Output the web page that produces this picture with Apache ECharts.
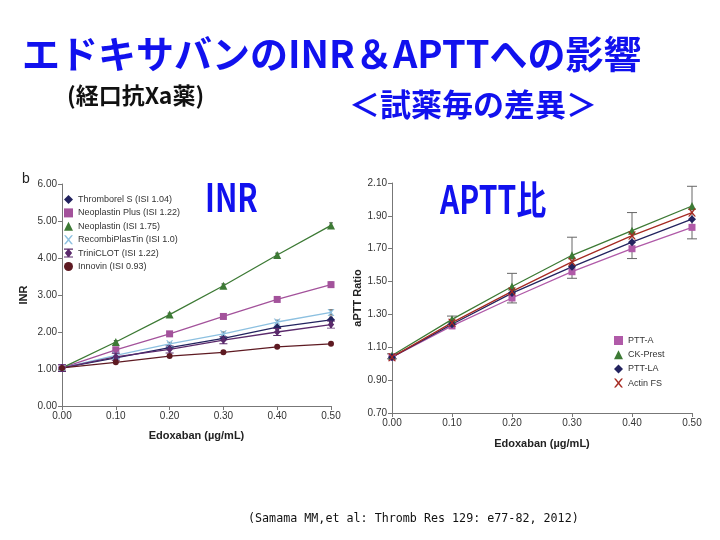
<!DOCTYPE html>
<html><head><meta charset="utf-8">
<script src="https://cdn.jsdelivr.net/npm/echarts@6/dist/echarts.min.js"></script>
<style>html,body{margin:0;padding:0;background:#fff}#c{width:720px;height:540px}</style>
</head><body><div id="c"></div>
<script>
// ---- data ----
const doses = [0.00, 0.10, 0.20, 0.30, 0.40, 0.50];
const inrTicks = [0, 1, 2, 3, 4, 5, 6];
const thromborelS = [1.03, 1.30, 1.58, 1.83, 2.13, 2.33];
const neoplastinPlus = [1.03, 1.52, 1.95, 2.42, 2.88, 3.28];
const neoplastin = [1.03, 1.73, 2.47, 3.25, 4.08, 4.88];
const recombiPlasTin = [1.03, 1.37, 1.68, 1.95, 2.27, 2.53];
const triniClot = [1.03, 1.33, 1.53, 1.78, 2.00, 2.20];
const innovin = [1.03, 1.18, 1.35, 1.45, 1.60, 1.68];
const inrErr = [0.04, 0.04, 0.04, 0.05, 0.05, 0.07];

const pttA = [1.04, 1.23, 1.40, 1.56, 1.70, 1.83];
const ckPrest = [1.05, 1.27, 1.47, 1.66, 1.81, 1.96];
const pttLA = [1.04, 1.24, 1.43, 1.59, 1.74, 1.88];
const actinFS = [1.04, 1.25, 1.44, 1.62, 1.78, 1.92];
const apttErrLow = [1.03, 1.24, 1.37, 1.52, 1.64, 1.76];
const apttErrHigh = [1.06, 1.29, 1.55, 1.77, 1.92, 2.08];

// ---- chart ----
const chart = echarts.init(document.getElementById('c'));
const X = 'path://M0,0L2,0L5,3.6L8,0L10,0L6,5L10,10L8,10L5,6.4L2,10L0,10L4,5Z';
const AST = 'path://M0,0L10,0L10,1.2L6.2,1.2L6.2,1.6L9,5L6.2,8.4L6.2,8.8L10,8.8L10,10L0,10L0,8.8L3.8,8.8L3.8,8.4L1,5L3.8,1.6L3.8,1.2L0,1.2Z';
const pairs = arr => doses.map((d, i) => [d, arr[i]]);

function axisCommon(){
  return {
    axisLine:{show:true,lineStyle:{color:'#777',width:1}},
    axisTick:{show:true,length:4,lineStyle:{color:'#777'}},
    axisLabel:{color:'#333',fontSize:10,fontFamily:'Liberation Sans, Arial',margin:5},
    splitLine:{show:false}
  };
}
function line(name, arr, color, symbol, size, xi){
  return {name, type:'line', xAxisIndex:xi, yAxisIndex:xi, data:pairs(arr),
    symbol, symbolSize:size, showSymbol:true,
    lineStyle:{color, width:1.3}, itemStyle:{color}, z:3, animation:false};
}
function errSeries(xi, lows, highs, color, capW){
  const data = doses.map((d,i)=>[d, lows[i], highs[i]]);
  return {type:'custom', xAxisIndex:xi, yAxisIndex:xi, data, z:2, animation:false,
    encode:{x:0,y:[1,2]},
    renderItem:(params, api)=>{
      const x = api.value(0);
      const lo = api.coord([x, api.value(1)]);
      const hi = api.coord([x, api.value(2)]);
      const st = {stroke:color, lineWidth:1};
      return {type:'group', children:[
        {type:'line', shape:{x1:lo[0],y1:lo[1],x2:hi[0],y2:hi[1]}, style:st},
        {type:'line', shape:{x1:lo[0]-capW,y1:lo[1],x2:lo[0]+capW,y2:lo[1]}, style:st},
        {type:'line', shape:{x1:hi[0]-capW,y1:hi[1],x2:hi[0]+capW,y2:hi[1]}, style:st}
      ]};
    }};
}
const inrLow = (arr)=>arr.map((v,i)=>v-inrErr[i]);
const inrHigh = (arr)=>arr.map((v,i)=>v+inrErr[i]);
const nameStyle = {fontSize:11,fontWeight:'bold',color:'#222',fontFamily:'Liberation Sans, Arial'};
const fmt = v=>v.toFixed(2);

const option = {
  backgroundColor:'#fff',
  animation:false,
  grid:[
    {left:62, top:184, width:269, height:222},
    {left:392, top:183, width:300, height:230}
  ],
  xAxis:[
    Object.assign(axisCommon(),{gridIndex:0,type:'value',min:0,max:0.5,interval:0.1,
      axisLabel:Object.assign(axisCommon().axisLabel,{formatter:fmt}),
      name:'Edoxaban (µg/mL)',nameLocation:'middle',nameGap:24,nameTextStyle:nameStyle}),
    Object.assign(axisCommon(),{gridIndex:1,type:'value',min:0,max:0.5,interval:0.1,
      axisLabel:Object.assign(axisCommon().axisLabel,{formatter:fmt}),
      name:'Edoxaban (µg/mL)',nameLocation:'middle',nameGap:25,nameTextStyle:nameStyle})
  ],
  yAxis:[
    Object.assign(axisCommon(),{gridIndex:0,type:'value',min:inrTicks[0],max:inrTicks[inrTicks.length-1],interval:1,
      axisLabel:Object.assign(axisCommon().axisLabel,{formatter:fmt}),
      name:'INR',nameLocation:'middle',nameGap:33,nameRotate:90,nameTextStyle:nameStyle}),
    Object.assign(axisCommon(),{gridIndex:1,type:'value',min:0.7,max:2.1,interval:0.2,
      axisLabel:Object.assign(axisCommon().axisLabel,{formatter:fmt}),
      name:'aPTT Ratio',nameLocation:'middle',nameGap:29,nameRotate:90,nameTextStyle:nameStyle})
  ],
  legend:[
    {left:59, top:190, orient:'vertical', itemGap:4.4, itemWidth:9, itemHeight:9,
     textStyle:{fontSize:9,color:'#333',fontFamily:'Liberation Sans, Arial'},
     data:[
      {name:'Thromborel S (ISI 1.04)',icon:'diamond'},
      {name:'Neoplastin Plus (ISI 1.22)',icon:'rect'},
      {name:'Neoplastin (ISI 1.75)',icon:'triangle'},
      {name:'RecombiPlasTin (ISI 1.0)',icon:X},
      {name:'TriniCLOT (ISI 1.22)',icon:AST},
      {name:'Innovin (ISI 0.93)',icon:'circle'}]},
    {left:609, top:331, orient:'vertical', itemGap:5.2, itemWidth:9, itemHeight:9,
     textStyle:{fontSize:9,color:'#333',fontFamily:'Liberation Sans, Arial'},
     data:[
      {name:'PTT-A',icon:'rect'},
      {name:'CK-Prest',icon:'triangle'},
      {name:'PTT-LA',icon:'diamond'},
      {name:'Actin FS',icon:X}]}
  ],
  title:[
    {text:'b',left:17,top:167,textStyle:{fontSize:14,fontWeight:'normal',color:'#222',fontFamily:'Liberation Sans, Arial'}},
    {text:'(Samama MM,et al: Thromb Res 129: e77-82, 2012)',left:243,top:508,
     textStyle:{fontSize:11.7,fontWeight:'normal',color:'#111',fontFamily:'DejaVu Sans Mono'}}
  ],
  graphic:[
    {type:'text',left:22,top:35,style:{text:'エドキサバンのINR＆APTTへの影響',fill:'#1111ee',
      font:'bold 38px "Noto Sans CJK JP"'}},
    {type:'text',left:67,top:84,style:{text:'(経口抗Xa薬)',fill:'#111',
      font:'bold 23px "Noto Sans CJK JP"'}},
    {type:'text',left:349,top:89,style:{text:'＜試薬毎の差異＞',fill:'#1111ee',
      font:'bold 31px "Noto Sans CJK JP"'}},
    {type:'text',x:205,y:178,scaleY:1.3,style:{text:'INR',fill:'#1111ee',textVerticalAlign:'top',
      font:'bold 30px "Noto Sans CJK JP"'}},
    {type:'text',x:440,y:180,scaleY:1.3,style:{text:'APTT比',fill:'#1111ee',textVerticalAlign:'top',
      font:'bold 30px "Noto Sans CJK JP"'}}
  ],
  series:[
    errSeries(0, inrLow(neoplastin), inrHigh(neoplastin), '#555', 2),
    errSeries(0, inrLow(neoplastinPlus), inrHigh(neoplastinPlus), '#555', 2),
    errSeries(0, inrLow(recombiPlasTin), inrHigh(recombiPlasTin), '#555', 2),
    errSeries(0, inrLow(thromborelS), inrHigh(thromborelS), '#555', 2),
    line('Thromborel S (ISI 1.04)', thromborelS, '#23235f', 'diamond', 8, 0),
    line('Neoplastin Plus (ISI 1.22)', neoplastinPlus, '#a3529b', 'rect', 7, 0),
    line('Neoplastin (ISI 1.75)', neoplastin, '#3d7a35', 'triangle', 8, 0),
    line('RecombiPlasTin (ISI 1.0)', recombiPlasTin, '#8cc0e0', X, 7, 0),
    line('TriniCLOT (ISI 1.22)', triniClot, '#5b2a6c', AST, 8, 0),
    line('Innovin (ISI 0.93)', innovin, '#5e1a22', 'circle', 6, 0),
    errSeries(1, apttErrLow, apttErrHigh, '#666', 5),
    line('PTT-A', pttA, '#b05aa8', 'rect', 7, 1),
    line('CK-Prest', ckPrest, '#3d7a35', 'triangle', 8, 1),
    line('PTT-LA', pttLA, '#23235f', 'diamond', 8, 1),
    line('Actin FS', actinFS, '#a52a22', X, 8, 1)
  ]
};
chart.setOption(option);
</script></body></html>
